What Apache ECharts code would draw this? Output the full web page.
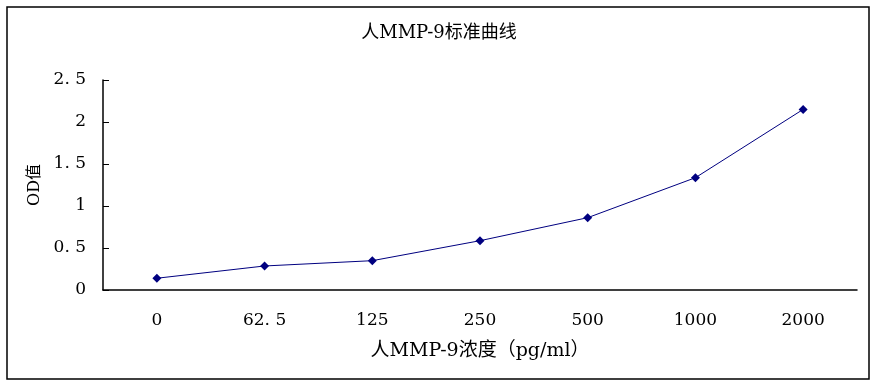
<!DOCTYPE html>
<html><head><meta charset="utf-8">
<script src="https://cdn.jsdelivr.net/npm/echarts@6/dist/echarts.min.js"></script>
<style>html,body{margin:0;padding:0;background:#fff}#c{width:878px;height:387px}</style>
</head><body><div id="c"></div>
<script>
const categories = ['0', '62.5', '125', '250', '500', '1000', '2000'];
const categoryLabels = ['0', '62. 5', '125', '250', '500', '1000', '2000'];
const odValues = [0.14, 0.286, 0.349, 0.587, 0.861, 1.337, 2.15];
const yTickLabels = {0: '0', 0.5: '0. 5', 1: '1', 1.5: '1. 5', 2: '2', 2.5: '2. 5'};
const FONT = '"DejaVu Serif", "Noto Sans CJK SC", serif';
const chart = echarts.init(document.getElementById('c'));
chart.setOption({
  animation: false,
  backgroundColor: '#fff',
  title: {
    text: '人MMP-9标准曲线', left: 'center', top: 19,
    textStyle: {fontFamily: FONT, fontSize: 18, fontWeight: 'normal', color: '#000'}
  },
  graphic: [{
    type: 'rect', shape: {x: 7, y: 7, width: 862, height: 372},
    style: {fill: 'none', stroke: '#000', lineWidth: 1.5}, silent: true
  }],
  grid: {left: 103, right: 21, top: 80, bottom: 97},
  xAxis: {
    type: 'category', data: categories, boundaryGap: true,
    name: '人MMP-9浓度（pg/ml）', nameLocation: 'middle', nameGap: 52,
    nameTextStyle: {fontFamily: FONT, fontSize: 19, color: '#000'},
    axisLine: {lineStyle: {color: '#000', width: 1.5}},
    axisTick: {inside: true, length: 6, lineStyle: {color: '#000'}},
    axisLabel: {fontFamily: FONT, fontSize: 17, color: '#000', margin: 22,
      formatter: (v, i) => categoryLabels[i]}
  },
  yAxis: {
    type: 'value', min: 0, max: 2.5, interval: 0.5,
    name: 'OD值', nameLocation: 'middle', nameGap: 58, nameRotate: 90,
    nameTextStyle: {fontFamily: FONT, fontSize: 16, color: '#000'},
    axisLine: {show: true, lineStyle: {color: '#000', width: 1.5}},
    axisTick: {show: true, inside: true, length: 6, lineStyle: {color: '#000'}},
    splitLine: {show: false},
    axisLabel: {fontFamily: FONT, fontSize: 17, color: '#000', margin: 17,
      formatter: v => yTickLabels[v] !== undefined ? yTickLabels[v] : String(v)}
  },
  series: [{
    type: 'line', data: odValues,
    symbol: 'diamond', symbolSize: 9,
    lineStyle: {color: '#000080', width: 1},
    itemStyle: {color: '#000080'}
  }]
});
</script></body></html>
